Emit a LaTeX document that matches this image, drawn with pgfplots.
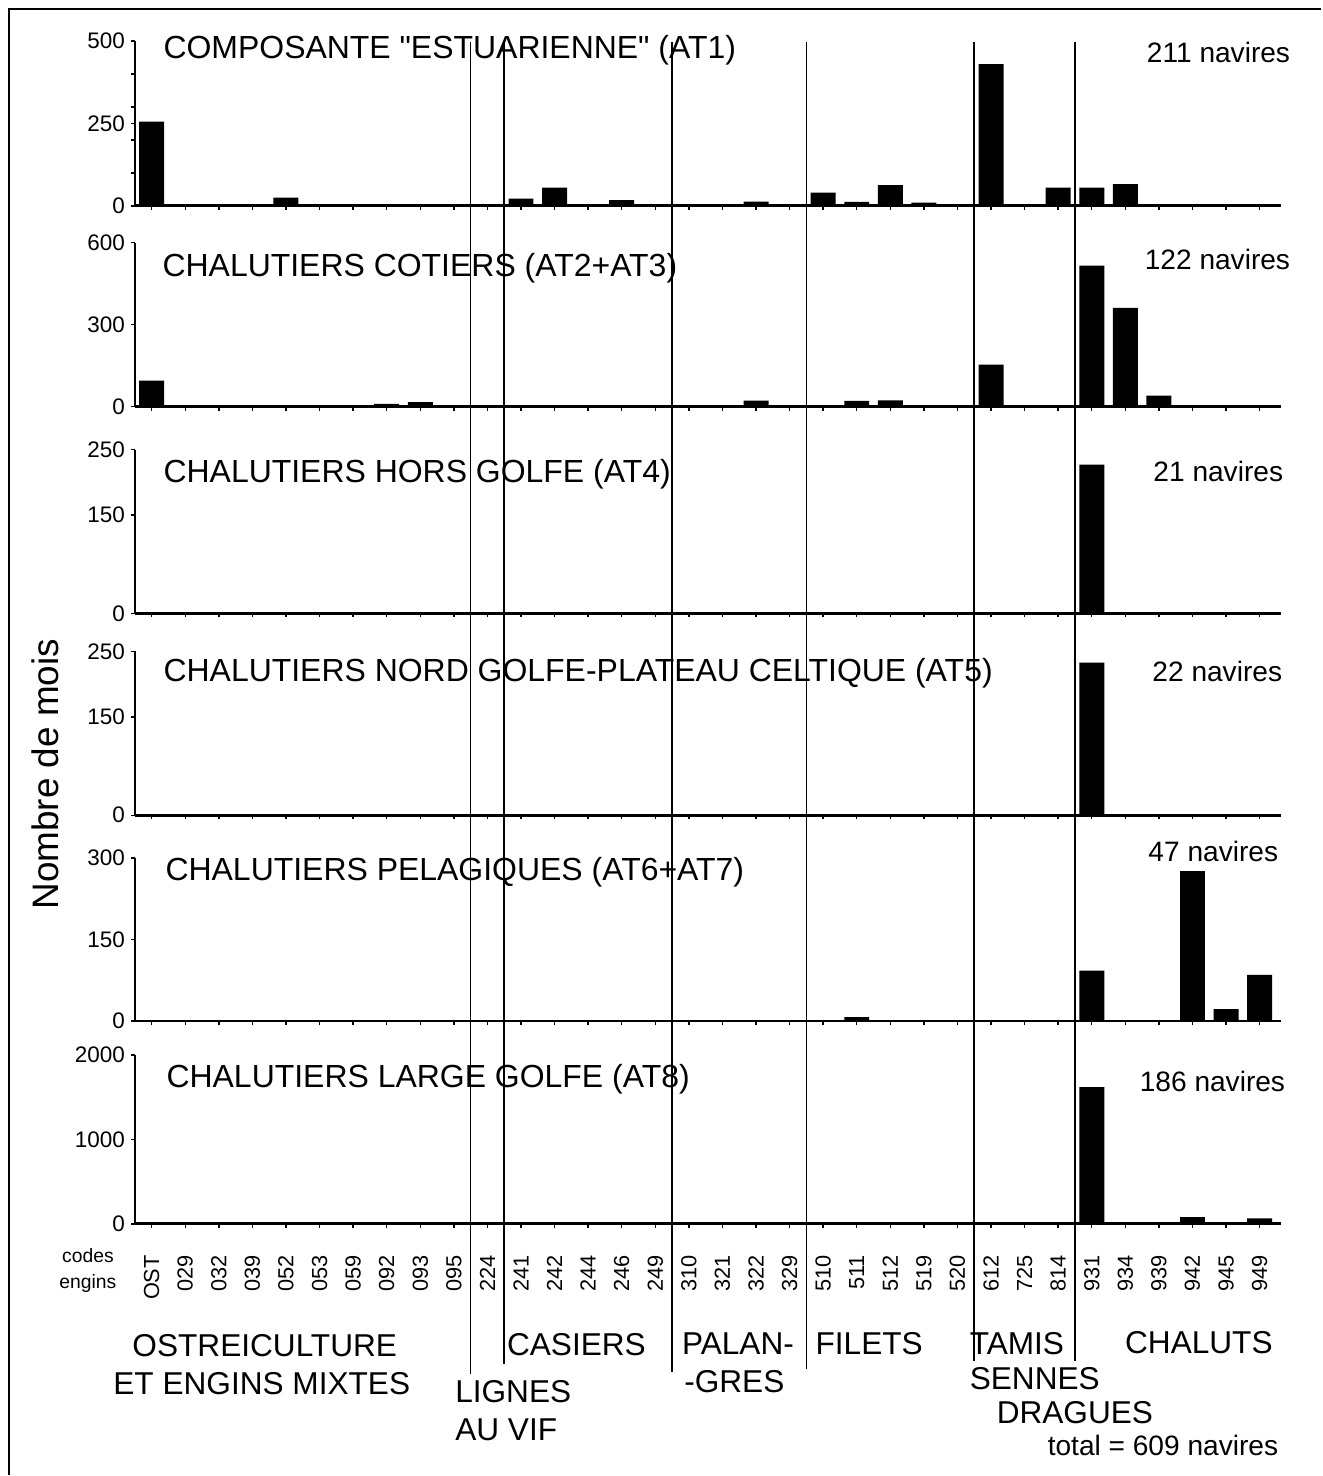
\documentclass[border=0pt]{standalone}
\usepackage{fontspec}
\setmainfont{Liberation Sans}
\usepackage{pgfplots}
\usepackage{pgfplotstable}
\pgfplotsset{compat=1.18}

\pgfplotstableread{
i code at1 at23 at4 at5 at67 at8
0 OST 255 95 0 0 0 0
1 029 2 0 0 0 0 0
2 032 0 0 0 0 0 0
3 039 0 0 0 0 0 0
4 052 25 0 0 0 0 0
5 053 3 0 0 0 0 0
6 059 4 0 0 0 0 0
7 092 4 10 0 0 0 0
8 093 0 16 0 0 0 0
9 095 0 0 0 0 0 0
10 224 0 0 0 0 0 0
11 241 22 0 0 0 0 0
12 242 55 0 0 0 0 0
13 244 3 0 0 0 0 0
14 246 17 0 0 0 0 0
15 249 0 0 0 0 0 0
16 310 0 0 0 0 0 0
17 321 0 0 0 0 0 0
18 322 13 22 0 0 0 0
19 329 0 0 0 0 0 0
20 510 40 0 0 0 0 0
21 511 12 21 0 0 7 0
22 512 63 23 0 0 0 0
23 519 10 0 0 0 0 0
24 520 2 0 0 0 0 0
25 612 430 154 0 0 0 0
26 725 0 0 0 0 0 0
27 814 55 0 0 0 0 0
28 931 55 516 227 233 93 1620
29 934 66 362 0 0 0 0
30 939 0 40 0 0 0 0
31 942 0 0 0 0 276 80
32 945 0 0 0 0 22 0
33 949 0 0 0 0 85 65
}\datatable

\pgfplotsset{
  panel/.style={
    scale only axis, width=11.47cm,
    xmin=-0.5, xmax=33.63, ymin=0,
    enlarge x limits=false, enlarge y limits=false,
    axis x line*=bottom, axis y line*=left,
    ybar, bar width=0.25cm,
    xtick={0,...,33}, xticklabels={},
    tick align=outside, major tick length=0.04cm, minor tick length=0.04cm,
    x axis line style={line width=0.8pt},
    y axis line style={line width=0.6pt},
    tick style={line width=0.4pt, black},
    /pgf/number format/assume math mode=true,
    /pgf/number format/1000 sep={},
    yticklabel style={font=\fontsize{6.4}{7}\selectfont, inner sep=1.5pt},
    clip=false,
  },
  bars/.style={fill=black, draw=none},
}

\newcommand{\ttl}{\fontsize{9.1}{10}\selectfont}
\newcommand{\nav}{\fontsize{8}{9}\selectfont}
\newcommand{\grp}{\fontsize{9}{10}\selectfont}
\newcommand{\dq}{\XeTeXglyph\numexpr\XeTeXcharglyph"22\relax}

\begin{document}
\begin{tikzpicture}
\path (0,0) rectangle (13.22,-14.76);
\draw[line width=0.8pt] (0.09,-14.76) -- (0.09,-0.09) -- (13.22,-0.09);

% Panel 1
\begin{axis}[panel, at={(1.35cm,-2.06cm)}, anchor=south west, height=1.65cm,
  ymax=500, ytick={0,250,500}, minor ytick={100,200,300,400}]
\addplot[bars] table[x=i, y=at1] {\datatable};
\end{axis}
% Panel 2
\begin{axis}[panel, at={(1.35cm,-4.07cm)}, anchor=south west, height=1.64cm,
  ymax=600, ytick={0,300,600}]
\addplot[bars] table[x=i, y=at23] {\datatable};
\end{axis}
% Panel 3
\begin{axis}[panel, at={(1.35cm,-6.14cm)}, anchor=south west, height=1.64cm,
  ymax=250, ytick={0,150,250}]
\addplot[bars] table[x=i, y=at4] {\datatable};
\end{axis}
% Panel 4
\begin{axis}[panel, at={(1.35cm,-8.16cm)}, anchor=south west, height=1.64cm,
  ymax=250, ytick={0,150,250}]
\addplot[bars] table[x=i, y=at5] {\datatable};
\end{axis}
% Panel 5
\begin{axis}[panel, at={(1.35cm,-10.22cm)}, anchor=south west, height=1.63cm,
  ymax=300, ytick={0,150,300}]
\addplot[bars] table[x=i, y=at67] {\datatable};
\end{axis}
% Panel 6
\begin{axis}[panel, at={(1.35cm,-12.25cm)}, anchor=south west, height=1.69cm,
  ymax=2000, ytick={0,1000,2000},
  xticklabels={OST,029,032,039,052,053,059,092,093,095,224,241,242,244,246,249,310,321,322,329,510,511,512,519,520,612,725,814,931,934,939,942,945,949},
  xticklabel style={rotate=90, anchor=east, font=\fontsize{6.2}{7}\selectfont},
  xticklabel shift=0.15cm]
\addplot[bars] table[x=i, y=at8] {\datatable};
\coordinate (s1) at (axis cs:9.5,0);
\coordinate (s2) at (axis cs:10.5,0);
\coordinate (s3) at (axis cs:15.5,0);
\coordinate (s4) at (axis cs:19.5,0);
\coordinate (s5) at (axis cs:24.5,0);
\coordinate (s6) at (axis cs:27.5,0);
\end{axis}

% group separators
\draw[line width=0.45pt] (s1 |- 0,-0.42) -- (s1 |- 0,-13.75);
\draw[line width=0.45pt] (s2 |- 0,-0.42) -- (s2 |- 0,-13.65);
\draw[line width=0.45pt] (s3 |- 0,-0.42) -- (s3 |- 0,-13.73);
\draw[line width=0.45pt] (s4 |- 0,-0.42) -- (s4 |- 0,-13.70);
\draw[line width=0.45pt] (s5 |- 0,-0.42) -- (s5 |- 0,-13.62);
\draw[line width=0.45pt] (s6 |- 0,-0.42) -- (s6 |- 0,-13.62);

% panel titles
\node[anchor=west, inner sep=0, font=\ttl] at (1.63,-0.50) {COMPOSANTE \dq ESTUARIENNE\dq\ (AT1)};
\node[anchor=west, inner sep=0, font=\ttl] at (1.62,-2.68) {CHALUTIERS COTIERS (AT2+AT3)};
\node[anchor=west, inner sep=0, font=\ttl] at (1.63,-4.75) {CHALUTIERS HORS GOLFE (AT4)};
\node[anchor=west, inner sep=0, font=\ttl] at (1.63,-6.74) {CHALUTIERS NORD GOLFE-PLATEAU CELTIQUE (AT5)};
\node[anchor=west, inner sep=0, font=\ttl] at (1.65,-8.73) {CHALUTIERS PELAGIQUES (AT6+AT7)};
\node[anchor=west, inner sep=0, font=\ttl] at (1.66,-10.80) {CHALUTIERS LARGE GOLFE (AT8)};

\node[anchor=east, inner sep=0, font=\nav] at (12.92,-0.53) {211 navires};
\node[anchor=east, inner sep=0, font=\nav] at (12.92,-2.60) {122 navires};
\node[anchor=east, inner sep=0, font=\nav] at (12.85,-4.72) {21 navires};
\node[anchor=east, inner sep=0, font=\nav] at (12.84,-6.72) {22 navires};
\node[anchor=east, inner sep=0, font=\nav] at (12.80,-8.52) {47 navires};
\node[anchor=east, inner sep=0, font=\nav] at (12.87,-10.82) {186 navires};

% y label
\node[rotate=90, font=\fontsize{10.5}{12}\selectfont] at (0.45,-7.75) {Nombre de mois};

% codes engins
\node[font=\fontsize{5.5}{6}\selectfont, inner sep=0] at (0.88,-12.57) {codes};
\node[font=\fontsize{5.5}{6}\selectfont, inner sep=0] at (0.88,-12.85) {engins};

% group labels
\node[font=\grp, inner sep=0] at (2.65,-13.47) {OSTREICULTURE};
\node[font=\grp, inner sep=0] at (2.62,-13.85) {ET ENGINS MIXTES};
\node[font=\grp, inner sep=0, anchor=west] at (4.55,-13.93) {LIGNES};
\node[font=\grp, inner sep=0, anchor=west] at (4.55,-14.31) {AU VIF};
\node[font=\grp, inner sep=0] at (5.77,-13.46) {CASIERS};
\node[font=\grp, inner sep=0, anchor=west] at (6.82,-13.45) {PALAN-};
\node[font=\grp, inner sep=0] at (7.35,-13.83) {-GRES};
\node[font=\grp, inner sep=0] at (8.70,-13.45) {FILETS};
\node[font=\grp, inner sep=0, anchor=west] at (9.70,-13.45) {TAMIS};
\node[font=\grp, inner sep=0, anchor=west] at (9.70,-13.80) {SENNES};
\node[font=\grp, inner sep=0, anchor=west] at (9.97,-14.14) {DRAGUES};
\node[font=\grp, inner sep=0] at (12.00,-13.44) {CHALUTS};
\node[font=\nav, inner sep=0, anchor=east] at (12.80,-14.47) {total = 609 navires};
\end{tikzpicture}
\end{document}
